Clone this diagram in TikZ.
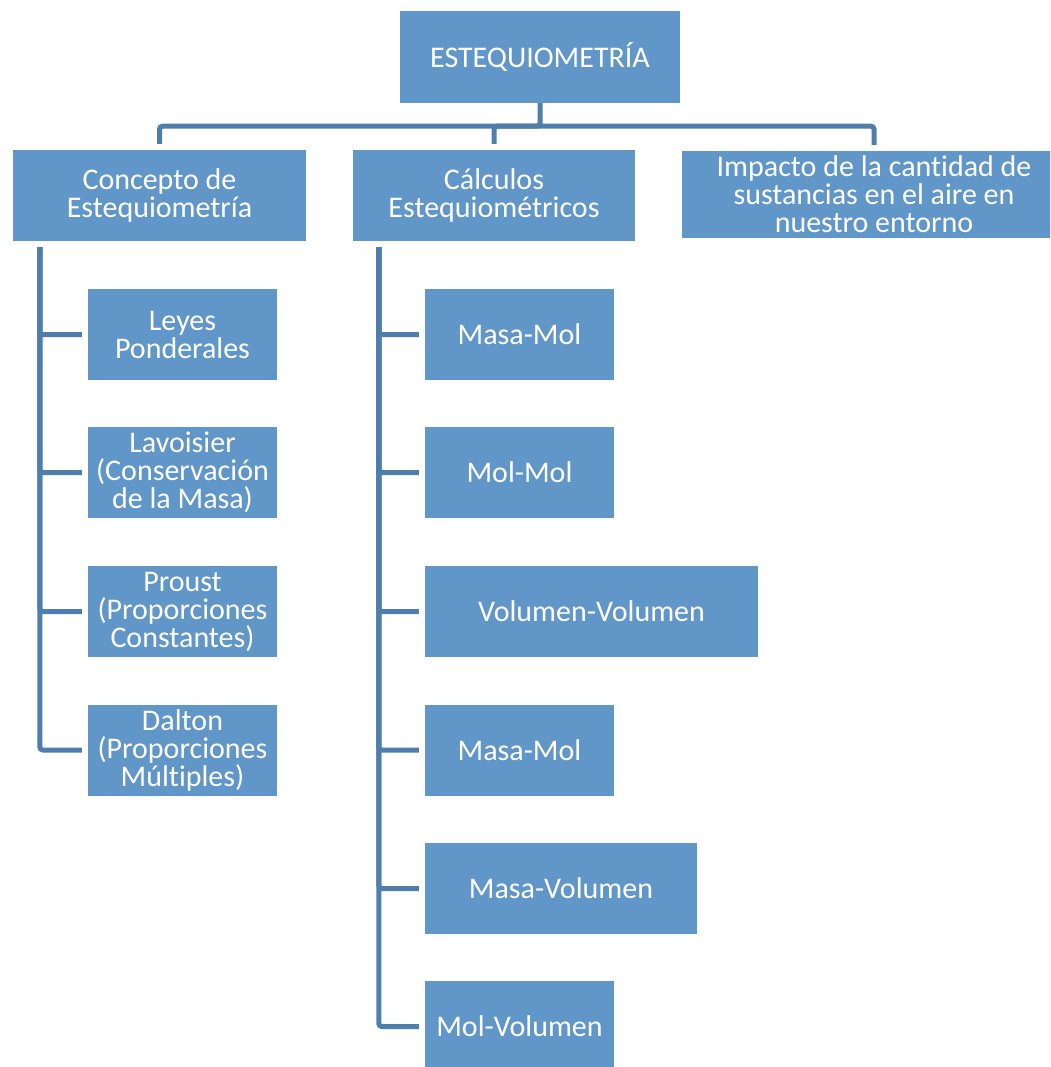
\documentclass[tikz,border=0pt]{standalone}
\usepackage{fontspec}
\setmainfont{Carlito}[Ligatures=NoCommon]
\definecolor{boxfill}{RGB}{97,150,200}
\definecolor{linecol}{RGB}{78,126,173}
\begin{document}
\begin{tikzpicture}[x=1pt,y=-1pt,
  box/.style={fill=boxfill, draw=none, text=white, inner sep=0pt, align=center,
    font=\fontsize{30}{28}\selectfont},
  conn/.style={draw=linecol, line width=5pt, rounded corners=3pt}]
\useasboundingbox (0,0) rectangle (1050,1067);
\clip (0,0) rectangle (1050,1067);
% top
\node[box, minimum width=280, minimum height=92] (top) at (540,57) {ESTEQUIOMETRÍA};
\node[box, minimum width=293, minimum height=91] (c1) at (159.5,195.5) {Concepto de\\Estequiometría};
\node[box, minimum width=282, minimum height=91] (c2) at (494,195.5) {Cálculos\\Estequiométricos};
\node[box, minimum width=384, minimum height=87] (c3) at (874,194.5) {Impacto de la cantidad de\\sustancias en el aire en\\nuestro entorno};
% left children
\node[box, minimum width=189, minimum height=91] (l1) at (182.5,334.5) {Leyes\\Ponderales};
\node[box, minimum width=189, minimum height=91] (l2) at (182.5,472.5) {Lavoisier\\(Conservación\\de la Masa)};
\node[box, minimum width=189, minimum height=91] (l3) at (182.5,611.5) {Proust\\(Proporciones\\Constantes)};
\node[box, minimum width=189, minimum height=91] (l4) at (182.5,750) {Dalton\\(Proporciones\\Múltiples)};
% middle children
\node[box, minimum width=189, minimum height=91] (m1) at (519.5,334.5) {Masa-Mol};
\node[box, minimum width=189, minimum height=91] (m2) at (519.5,472.5) {Mol-Mol};
\node[box, minimum width=333, minimum height=91] (m3) at (591.5,611.5) {Volumen-Volumen};
\node[box, minimum width=189, minimum height=91] (m4) at (519.5,750) {Masa-Mol};
\node[box, minimum width=272, minimum height=91] (m5) at (561,888.5) {Masa-Volumen};
\node[box, minimum width=189, minimum height=91] (m6) at (519.5,1026.5) {Mol-Volumen};
% top connectors
\coordinate (hub) at ([yshift=-23]top.south);
\draw[conn] (top.south) -- (hub) -| ([yshift=6]c1.north);
\draw[conn] (hub) -| ([yshift=6]c3.north);
\draw[conn] (hub) -| ([yshift=6]c2.north);
% left tree
\coordinate (lt) at ([xshift=27,yshift=-6]c1.south west);
\foreach \n in {l1,l2,l3,l4}{
  \draw[conn] (lt) |- ([xshift=-6]\n.west);
}
% middle tree
\coordinate (mt) at ([xshift=26,yshift=-6]c2.south west);
\foreach \n in {m1,m2,m3,m4,m5,m6}{
  \draw[conn] (mt) |- ([xshift=-6]\n.west);
}
\end{tikzpicture}
\end{document}
